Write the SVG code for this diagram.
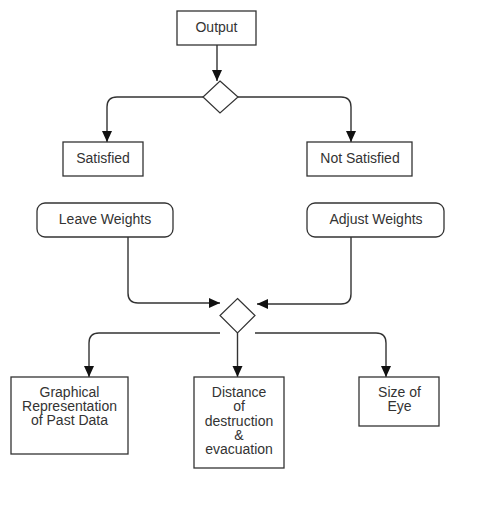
<svg xmlns="http://www.w3.org/2000/svg" width="487" height="512" viewBox="0 0 487 512">
<style>
.box{fill:#fff;stroke:#333;stroke-width:1.3}
.dia{fill:#fff;stroke:#333;stroke-width:1.2}
.lbl{font-family:"Liberation Sans",Arial,sans-serif;font-size:14px;fill:#333;text-anchor:middle}
.con{fill:none;stroke:#333;stroke-width:1.4;marker-end:url(#arr)}
</style>
<defs>
<marker id="arr" markerUnits="userSpaceOnUse" markerWidth="12" markerHeight="11" refX="11" refY="5" orient="auto">
<path d="M0,0 L11,5 L0,10 z" fill="#111"/>
</marker>
</defs>
<rect width="487" height="512" fill="#fff"/>
<g id="connectors">
<path class="con" d="M217,45 V81"/>
<path class="con" d="M203,97 H117 Q107,97 107,107 V142"/>
<path class="con" d="M238,97 H341 Q351,97 351,107 V142"/>
<path class="con" d="M128,237 V293 Q128,303 138,303 H220"/>
<path class="con" d="M351,237 V294 Q351,304 341,304 H257"/>
<path class="con" d="M220,333 H99 Q89,333 89,343 V377"/>
<path class="con" d="M237.5,333 V377"/>
<path class="con" d="M255,333 H376 Q386,333 386,343 V377"/>
</g>
<g id="output">
<rect class="box" x="177" y="11" width="79" height="34"/>
<text class="lbl" x="216.5" y="32">Output</text>
</g>
<g id="decision1">
<polygon class="dia" points="220,81 238,97 220,113 203,97"/>
</g>
<g id="satisfied">
<rect class="box" x="63" y="142" width="80" height="34"/>
<text class="lbl" x="103" y="163">Satisfied</text>
</g>
<g id="not-satisfied">
<rect class="box" x="307" y="142" width="105" height="34"/>
<text class="lbl" x="360" y="163">Not Satisfied</text>
</g>
<g id="leave-weights">
<rect class="box" x="37" y="203" width="136" height="34" rx="8"/>
<text class="lbl" x="105" y="224">Leave Weights</text>
</g>
<g id="adjust-weights">
<rect class="box" x="307" y="203" width="137" height="34" rx="8"/>
<text class="lbl" x="376" y="224">Adjust Weights</text>
</g>
<g id="decision2">
<polygon class="dia" points="237.5,298.5 255,315.5 237.5,333 220,315.5"/>
</g>
<g id="graphical">
<rect class="box" x="11" y="377" width="117" height="77"/>
<text class="lbl" x="69.5" y="397">Graphical</text>
<text class="lbl" x="69.5" y="411">Representation</text>
<text class="lbl" x="69.5" y="425">of Past Data</text>
</g>
<g id="distance">
<rect class="box" x="194" y="377" width="90" height="91"/>
<text class="lbl" x="239" y="397">Distance</text>
<text class="lbl" x="239" y="411">of</text>
<text class="lbl" x="239" y="425.5">destruction</text>
<text class="lbl" x="239" y="440">&amp;</text>
<text class="lbl" x="239" y="454">evacuation</text>
</g>
<g id="size-of-eye">
<rect class="box" x="359" y="377" width="80" height="49"/>
<text class="lbl" x="399.5" y="397">Size of</text>
<text class="lbl" x="399.5" y="411">Eye</text>
</g>
</svg>
